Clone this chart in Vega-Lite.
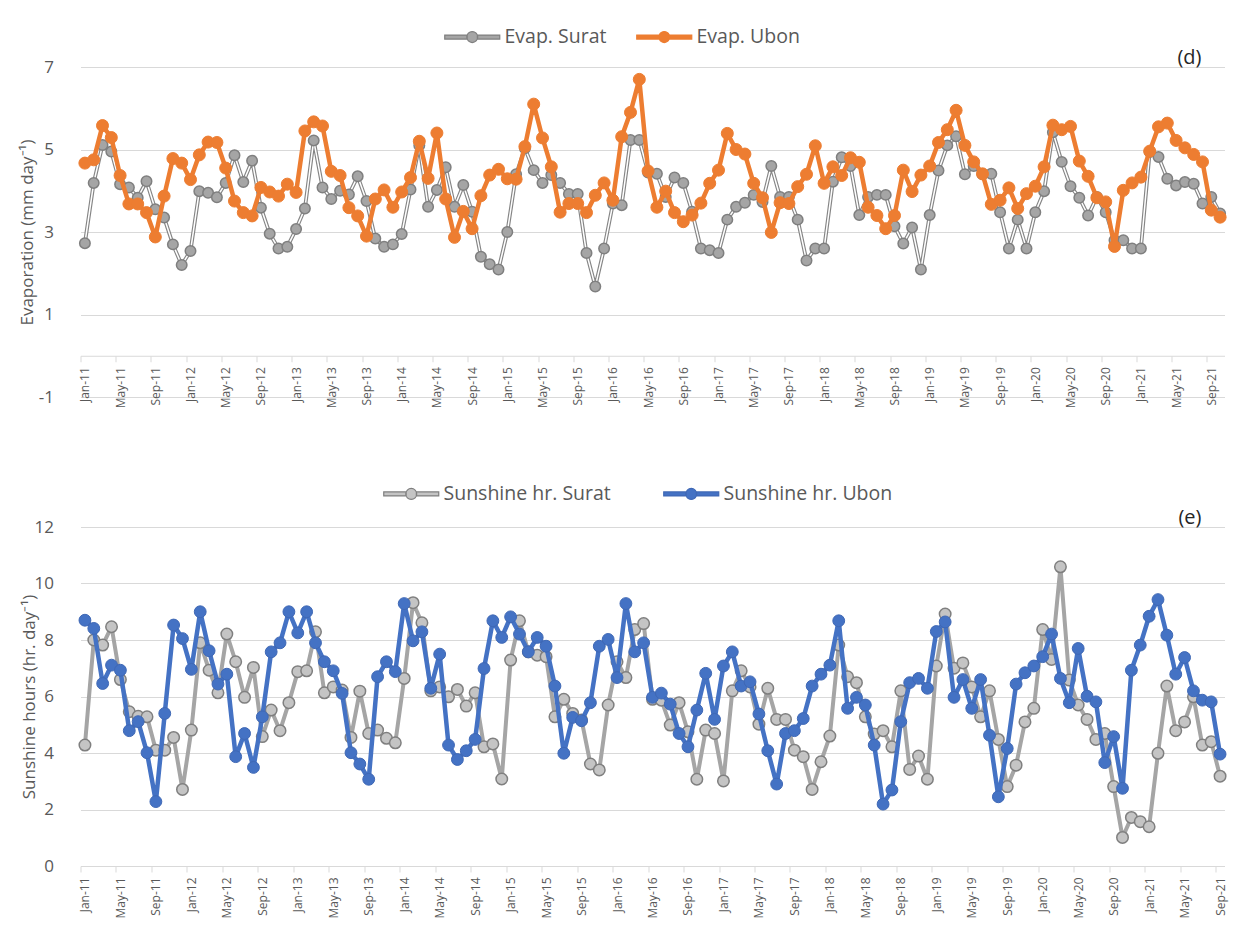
{
  "$schema": "https://vega.github.io/schema/vega-lite/v6.json",
  "autosize": {"type": "pad"},
  "padding": {"left": 18.5, "top": 27, "right": 10, "bottom": 5},
  "bounds": "flush",
  "spacing": 130,
  "background": "white",
  "config": {
    "view": {"stroke": null},
    "font": "Open Sans",
    "axis": {"labelFont": "Open Sans", "titleFont": "Open Sans"},
    "legend": {"labelFont": "Open Sans", "labelLimit": 400},
    "title": {"font": "Open Sans"}
  },
  "datasets": {
    "evap": [
      {"i":0,"s":"Evap. Surat","v":2.73},{"i":1,"s":"Evap. Surat","v":4.19},{"i":2,"s":"Evap. Surat","v":5.11},{"i":3,"s":"Evap. Surat","v":4.95},{"i":4,"s":"Evap. Surat","v":4.16},{"i":5,"s":"Evap. Surat","v":4.08},{"i":6,"s":"Evap. Surat","v":3.83},{"i":7,"s":"Evap. Surat","v":4.23},{"i":8,"s":"Evap. Surat","v":3.55},{"i":9,"s":"Evap. Surat","v":3.35},
      {"i":10,"s":"Evap. Surat","v":2.7},{"i":11,"s":"Evap. Surat","v":2.2},{"i":12,"s":"Evap. Surat","v":2.54},{"i":13,"s":"Evap. Surat","v":3.99},{"i":14,"s":"Evap. Surat","v":3.95},{"i":15,"s":"Evap. Surat","v":3.84},{"i":16,"s":"Evap. Surat","v":4.19},{"i":17,"s":"Evap. Surat","v":4.86},{"i":18,"s":"Evap. Surat","v":4.21},{"i":19,"s":"Evap. Surat","v":4.73},
      {"i":20,"s":"Evap. Surat","v":3.59},{"i":21,"s":"Evap. Surat","v":2.96},{"i":22,"s":"Evap. Surat","v":2.6},{"i":23,"s":"Evap. Surat","v":2.64},{"i":24,"s":"Evap. Surat","v":3.07},{"i":25,"s":"Evap. Surat","v":3.57},{"i":26,"s":"Evap. Surat","v":5.22},{"i":27,"s":"Evap. Surat","v":4.08},{"i":28,"s":"Evap. Surat","v":3.8},{"i":29,"s":"Evap. Surat","v":4.0},
      {"i":30,"s":"Evap. Surat","v":3.91},{"i":31,"s":"Evap. Surat","v":4.35},{"i":32,"s":"Evap. Surat","v":3.75},{"i":33,"s":"Evap. Surat","v":2.84},{"i":34,"s":"Evap. Surat","v":2.64},{"i":35,"s":"Evap. Surat","v":2.7},{"i":36,"s":"Evap. Surat","v":2.95},{"i":37,"s":"Evap. Surat","v":4.03},{"i":38,"s":"Evap. Surat","v":5.1},{"i":39,"s":"Evap. Surat","v":3.61},
      {"i":40,"s":"Evap. Surat","v":4.02},{"i":41,"s":"Evap. Surat","v":4.57},{"i":42,"s":"Evap. Surat","v":3.61},{"i":43,"s":"Evap. Surat","v":4.14},{"i":44,"s":"Evap. Surat","v":3.49},{"i":45,"s":"Evap. Surat","v":2.4},{"i":46,"s":"Evap. Surat","v":2.22},{"i":47,"s":"Evap. Surat","v":2.09},{"i":48,"s":"Evap. Surat","v":3.0},{"i":49,"s":"Evap. Surat","v":4.4},
      {"i":50,"s":"Evap. Surat","v":5.03},{"i":51,"s":"Evap. Surat","v":4.5},{"i":52,"s":"Evap. Surat","v":4.19},{"i":53,"s":"Evap. Surat","v":4.38},{"i":54,"s":"Evap. Surat","v":4.19},{"i":55,"s":"Evap. Surat","v":3.92},{"i":56,"s":"Evap. Surat","v":3.92},{"i":57,"s":"Evap. Surat","v":2.49},{"i":58,"s":"Evap. Surat","v":1.68},{"i":59,"s":"Evap. Surat","v":2.6},
      {"i":60,"s":"Evap. Surat","v":3.69},{"i":61,"s":"Evap. Surat","v":3.65},{"i":62,"s":"Evap. Surat","v":5.23},{"i":63,"s":"Evap. Surat","v":5.23},{"i":64,"s":"Evap. Surat","v":4.44},{"i":65,"s":"Evap. Surat","v":4.41},{"i":66,"s":"Evap. Surat","v":3.85},{"i":67,"s":"Evap. Surat","v":4.32},{"i":68,"s":"Evap. Surat","v":4.19},{"i":69,"s":"Evap. Surat","v":3.49},
      {"i":70,"s":"Evap. Surat","v":2.6},{"i":71,"s":"Evap. Surat","v":2.56},{"i":72,"s":"Evap. Surat","v":2.49},{"i":73,"s":"Evap. Surat","v":3.3},{"i":74,"s":"Evap. Surat","v":3.61},{"i":75,"s":"Evap. Surat","v":3.71},{"i":76,"s":"Evap. Surat","v":3.9},{"i":77,"s":"Evap. Surat","v":3.73},{"i":78,"s":"Evap. Surat","v":4.6},{"i":79,"s":"Evap. Surat","v":3.85},
      {"i":80,"s":"Evap. Surat","v":3.85},{"i":81,"s":"Evap. Surat","v":3.3},{"i":82,"s":"Evap. Surat","v":2.31},{"i":83,"s":"Evap. Surat","v":2.6},{"i":84,"s":"Evap. Surat","v":2.6},{"i":85,"s":"Evap. Surat","v":4.22},{"i":86,"s":"Evap. Surat","v":4.81},{"i":87,"s":"Evap. Surat","v":4.6},{"i":88,"s":"Evap. Surat","v":3.41},{"i":89,"s":"Evap. Surat","v":3.85},
      {"i":90,"s":"Evap. Surat","v":3.9},{"i":91,"s":"Evap. Surat","v":3.9},{"i":92,"s":"Evap. Surat","v":3.14},{"i":93,"s":"Evap. Surat","v":2.72},{"i":94,"s":"Evap. Surat","v":3.11},{"i":95,"s":"Evap. Surat","v":2.09},{"i":96,"s":"Evap. Surat","v":3.41},{"i":97,"s":"Evap. Surat","v":4.49},{"i":98,"s":"Evap. Surat","v":5.1},{"i":99,"s":"Evap. Surat","v":5.32},
      {"i":100,"s":"Evap. Surat","v":4.4},{"i":101,"s":"Evap. Surat","v":4.6},{"i":102,"s":"Evap. Surat","v":4.4},{"i":103,"s":"Evap. Surat","v":4.41},{"i":104,"s":"Evap. Surat","v":3.48},{"i":105,"s":"Evap. Surat","v":2.6},{"i":106,"s":"Evap. Surat","v":3.3},{"i":107,"s":"Evap. Surat","v":2.6},{"i":108,"s":"Evap. Surat","v":3.48},{"i":109,"s":"Evap. Surat","v":3.99},
      {"i":110,"s":"Evap. Surat","v":5.42},{"i":111,"s":"Evap. Surat","v":4.7},{"i":112,"s":"Evap. Surat","v":4.11},{"i":113,"s":"Evap. Surat","v":3.83},{"i":114,"s":"Evap. Surat","v":3.4},{"i":115,"s":"Evap. Surat","v":3.85},{"i":116,"s":"Evap. Surat","v":3.48},{"i":117,"s":"Evap. Surat","v":2.8},{"i":118,"s":"Evap. Surat","v":2.8},{"i":119,"s":"Evap. Surat","v":2.6},
      {"i":120,"s":"Evap. Surat","v":2.6},{"i":121,"s":"Evap. Surat","v":4.94},{"i":122,"s":"Evap. Surat","v":4.82},{"i":123,"s":"Evap. Surat","v":4.29},{"i":124,"s":"Evap. Surat","v":4.13},{"i":125,"s":"Evap. Surat","v":4.21},{"i":126,"s":"Evap. Surat","v":4.17},{"i":127,"s":"Evap. Surat","v":3.69},{"i":128,"s":"Evap. Surat","v":3.85},{"i":129,"s":"Evap. Surat","v":3.45},
      {"i":0,"s":"Evap. Ubon","v":4.67},{"i":1,"s":"Evap. Ubon","v":4.75},{"i":2,"s":"Evap. Ubon","v":5.58},{"i":3,"s":"Evap. Ubon","v":5.29},{"i":4,"s":"Evap. Ubon","v":4.37},{"i":5,"s":"Evap. Ubon","v":3.68},{"i":6,"s":"Evap. Ubon","v":3.68},{"i":7,"s":"Evap. Ubon","v":3.47},{"i":8,"s":"Evap. Ubon","v":2.88},{"i":9,"s":"Evap. Ubon","v":3.87},
      {"i":10,"s":"Evap. Ubon","v":4.78},{"i":11,"s":"Evap. Ubon","v":4.67},{"i":12,"s":"Evap. Ubon","v":4.27},{"i":13,"s":"Evap. Ubon","v":4.87},{"i":14,"s":"Evap. Ubon","v":5.18},{"i":15,"s":"Evap. Ubon","v":5.17},{"i":16,"s":"Evap. Ubon","v":4.55},{"i":17,"s":"Evap. Ubon","v":3.75},{"i":18,"s":"Evap. Ubon","v":3.47},{"i":19,"s":"Evap. Ubon","v":3.39},
      {"i":20,"s":"Evap. Ubon","v":4.08},{"i":21,"s":"Evap. Ubon","v":3.97},{"i":22,"s":"Evap. Ubon","v":3.87},{"i":23,"s":"Evap. Ubon","v":4.16},{"i":24,"s":"Evap. Ubon","v":3.96},{"i":25,"s":"Evap. Ubon","v":5.45},{"i":26,"s":"Evap. Ubon","v":5.67},{"i":27,"s":"Evap. Ubon","v":5.57},{"i":28,"s":"Evap. Ubon","v":4.47},{"i":29,"s":"Evap. Ubon","v":4.37},
      {"i":30,"s":"Evap. Ubon","v":3.59},{"i":31,"s":"Evap. Ubon","v":3.39},{"i":32,"s":"Evap. Ubon","v":2.9},{"i":33,"s":"Evap. Ubon","v":3.8},{"i":34,"s":"Evap. Ubon","v":4.02},{"i":35,"s":"Evap. Ubon","v":3.6},{"i":36,"s":"Evap. Ubon","v":3.97},{"i":37,"s":"Evap. Ubon","v":4.32},{"i":38,"s":"Evap. Ubon","v":5.2},{"i":39,"s":"Evap. Ubon","v":4.3},
      {"i":40,"s":"Evap. Ubon","v":5.4},{"i":41,"s":"Evap. Ubon","v":3.8},{"i":42,"s":"Evap. Ubon","v":2.87},{"i":43,"s":"Evap. Ubon","v":3.5},{"i":44,"s":"Evap. Ubon","v":3.08},{"i":45,"s":"Evap. Ubon","v":3.88},{"i":46,"s":"Evap. Ubon","v":4.38},{"i":47,"s":"Evap. Ubon","v":4.52},{"i":48,"s":"Evap. Ubon","v":4.29},{"i":49,"s":"Evap. Ubon","v":4.28},
      {"i":50,"s":"Evap. Ubon","v":5.07},{"i":51,"s":"Evap. Ubon","v":6.1},{"i":52,"s":"Evap. Ubon","v":5.28},{"i":53,"s":"Evap. Ubon","v":4.58},{"i":54,"s":"Evap. Ubon","v":3.48},{"i":55,"s":"Evap. Ubon","v":3.69},{"i":56,"s":"Evap. Ubon","v":3.69},{"i":57,"s":"Evap. Ubon","v":3.47},{"i":58,"s":"Evap. Ubon","v":3.89},{"i":59,"s":"Evap. Ubon","v":4.19},
      {"i":60,"s":"Evap. Ubon","v":3.77},{"i":61,"s":"Evap. Ubon","v":5.31},{"i":62,"s":"Evap. Ubon","v":5.9},{"i":63,"s":"Evap. Ubon","v":6.7},{"i":64,"s":"Evap. Ubon","v":4.48},{"i":65,"s":"Evap. Ubon","v":3.6},{"i":66,"s":"Evap. Ubon","v":3.99},{"i":67,"s":"Evap. Ubon","v":3.47},{"i":68,"s":"Evap. Ubon","v":3.25},{"i":69,"s":"Evap. Ubon","v":3.41},
      {"i":70,"s":"Evap. Ubon","v":3.7},{"i":71,"s":"Evap. Ubon","v":4.18},{"i":72,"s":"Evap. Ubon","v":4.5},{"i":73,"s":"Evap. Ubon","v":5.39},{"i":74,"s":"Evap. Ubon","v":5.0},{"i":75,"s":"Evap. Ubon","v":4.89},{"i":76,"s":"Evap. Ubon","v":4.18},{"i":77,"s":"Evap. Ubon","v":3.83},{"i":78,"s":"Evap. Ubon","v":2.99},{"i":79,"s":"Evap. Ubon","v":3.71},
      {"i":80,"s":"Evap. Ubon","v":3.69},{"i":81,"s":"Evap. Ubon","v":4.1},{"i":82,"s":"Evap. Ubon","v":4.4},{"i":83,"s":"Evap. Ubon","v":5.09},{"i":84,"s":"Evap. Ubon","v":4.18},{"i":85,"s":"Evap. Ubon","v":4.58},{"i":86,"s":"Evap. Ubon","v":4.37},{"i":87,"s":"Evap. Ubon","v":4.8},{"i":88,"s":"Evap. Ubon","v":4.69},{"i":89,"s":"Evap. Ubon","v":3.6},
      {"i":90,"s":"Evap. Ubon","v":3.4},{"i":91,"s":"Evap. Ubon","v":3.08},{"i":92,"s":"Evap. Ubon","v":3.4},{"i":93,"s":"Evap. Ubon","v":4.5},{"i":94,"s":"Evap. Ubon","v":3.98},{"i":95,"s":"Evap. Ubon","v":4.38},{"i":96,"s":"Evap. Ubon","v":4.6},{"i":97,"s":"Evap. Ubon","v":5.17},{"i":98,"s":"Evap. Ubon","v":5.48},{"i":99,"s":"Evap. Ubon","v":5.95},
      {"i":100,"s":"Evap. Ubon","v":5.1},{"i":101,"s":"Evap. Ubon","v":4.7},{"i":102,"s":"Evap. Ubon","v":4.41},{"i":103,"s":"Evap. Ubon","v":3.67},{"i":104,"s":"Evap. Ubon","v":3.77},{"i":105,"s":"Evap. Ubon","v":4.07},{"i":106,"s":"Evap. Ubon","v":3.57},{"i":107,"s":"Evap. Ubon","v":3.93},{"i":108,"s":"Evap. Ubon","v":4.11},{"i":109,"s":"Evap. Ubon","v":4.58},
      {"i":110,"s":"Evap. Ubon","v":5.59},{"i":111,"s":"Evap. Ubon","v":5.48},{"i":112,"s":"Evap. Ubon","v":5.56},{"i":113,"s":"Evap. Ubon","v":4.72},{"i":114,"s":"Evap. Ubon","v":4.35},{"i":115,"s":"Evap. Ubon","v":3.83},{"i":116,"s":"Evap. Ubon","v":3.73},{"i":117,"s":"Evap. Ubon","v":2.65},{"i":118,"s":"Evap. Ubon","v":4.01},{"i":119,"s":"Evap. Ubon","v":4.19},
      {"i":120,"s":"Evap. Ubon","v":4.33},{"i":121,"s":"Evap. Ubon","v":4.96},{"i":122,"s":"Evap. Ubon","v":5.55},{"i":123,"s":"Evap. Ubon","v":5.64},{"i":124,"s":"Evap. Ubon","v":5.22},{"i":125,"s":"Evap. Ubon","v":5.04},{"i":126,"s":"Evap. Ubon","v":4.88},{"i":127,"s":"Evap. Ubon","v":4.7},{"i":128,"s":"Evap. Ubon","v":3.53},{"i":129,"s":"Evap. Ubon","v":3.36}
    ],
    "sun": [
      {"i":0,"s":"Sunshine hr. Surat","v":4.28},{"i":1,"s":"Sunshine hr. Surat","v":8.0},{"i":2,"s":"Sunshine hr. Surat","v":7.82},{"i":3,"s":"Sunshine hr. Surat","v":8.47},{"i":4,"s":"Sunshine hr. Surat","v":6.6},{"i":5,"s":"Sunshine hr. Surat","v":5.46},{"i":6,"s":"Sunshine hr. Surat","v":5.3},{"i":7,"s":"Sunshine hr. Surat","v":5.28},{"i":8,"s":"Sunshine hr. Surat","v":4.1},{"i":9,"s":"Sunshine hr. Surat","v":4.1},
      {"i":10,"s":"Sunshine hr. Surat","v":4.55},{"i":11,"s":"Sunshine hr. Surat","v":2.71},{"i":12,"s":"Sunshine hr. Surat","v":4.81},{"i":13,"s":"Sunshine hr. Surat","v":7.9},{"i":14,"s":"Sunshine hr. Surat","v":6.93},{"i":15,"s":"Sunshine hr. Surat","v":6.13},{"i":16,"s":"Sunshine hr. Surat","v":8.21},{"i":17,"s":"Sunshine hr. Surat","v":7.23},{"i":18,"s":"Sunshine hr. Surat","v":5.97},{"i":19,"s":"Sunshine hr. Surat","v":7.03},
      {"i":20,"s":"Sunshine hr. Surat","v":4.58},{"i":21,"s":"Sunshine hr. Surat","v":5.52},{"i":22,"s":"Sunshine hr. Surat","v":4.79},{"i":23,"s":"Sunshine hr. Surat","v":5.78},{"i":24,"s":"Sunshine hr. Surat","v":6.88},{"i":25,"s":"Sunshine hr. Surat","v":6.91},{"i":26,"s":"Sunshine hr. Surat","v":8.29},{"i":27,"s":"Sunshine hr. Surat","v":6.13},{"i":28,"s":"Sunshine hr. Surat","v":6.34},{"i":29,"s":"Sunshine hr. Surat","v":6.23},
      {"i":30,"s":"Sunshine hr. Surat","v":4.55},{"i":31,"s":"Sunshine hr. Surat","v":6.19},{"i":32,"s":"Sunshine hr. Surat","v":4.69},{"i":33,"s":"Sunshine hr. Surat","v":4.81},{"i":34,"s":"Sunshine hr. Surat","v":4.52},{"i":35,"s":"Sunshine hr. Surat","v":4.36},{"i":36,"s":"Sunshine hr. Surat","v":6.64},{"i":37,"s":"Sunshine hr. Surat","v":9.32},{"i":38,"s":"Sunshine hr. Surat","v":8.61},{"i":39,"s":"Sunshine hr. Surat","v":6.2},
      {"i":40,"s":"Sunshine hr. Surat","v":6.34},{"i":41,"s":"Sunshine hr. Surat","v":5.99},{"i":42,"s":"Sunshine hr. Surat","v":6.25},{"i":43,"s":"Sunshine hr. Surat","v":5.66},{"i":44,"s":"Sunshine hr. Surat","v":6.13},{"i":45,"s":"Sunshine hr. Surat","v":4.22},{"i":46,"s":"Sunshine hr. Surat","v":4.32},{"i":47,"s":"Sunshine hr. Surat","v":3.08},{"i":48,"s":"Sunshine hr. Surat","v":7.29},{"i":49,"s":"Sunshine hr. Surat","v":8.68},
      {"i":50,"s":"Sunshine hr. Surat","v":7.58},{"i":51,"s":"Sunshine hr. Surat","v":7.46},{"i":52,"s":"Sunshine hr. Surat","v":7.41},{"i":53,"s":"Sunshine hr. Surat","v":5.28},{"i":54,"s":"Sunshine hr. Surat","v":5.9},{"i":55,"s":"Sunshine hr. Surat","v":5.4},{"i":56,"s":"Sunshine hr. Surat","v":5.17},{"i":57,"s":"Sunshine hr. Surat","v":3.61},{"i":58,"s":"Sunshine hr. Surat","v":3.4},{"i":59,"s":"Sunshine hr. Surat","v":5.7},
      {"i":60,"s":"Sunshine hr. Surat","v":7.23},{"i":61,"s":"Sunshine hr. Surat","v":6.67},{"i":62,"s":"Sunshine hr. Surat","v":8.37},{"i":63,"s":"Sunshine hr. Surat","v":8.58},{"i":64,"s":"Sunshine hr. Surat","v":5.9},{"i":65,"s":"Sunshine hr. Surat","v":5.87},{"i":66,"s":"Sunshine hr. Surat","v":4.99},{"i":67,"s":"Sunshine hr. Surat","v":5.78},{"i":68,"s":"Sunshine hr. Surat","v":4.75},{"i":69,"s":"Sunshine hr. Surat","v":3.07},
      {"i":70,"s":"Sunshine hr. Surat","v":4.81},{"i":71,"s":"Sunshine hr. Surat","v":4.69},{"i":72,"s":"Sunshine hr. Surat","v":3.01},{"i":73,"s":"Sunshine hr. Surat","v":6.2},{"i":74,"s":"Sunshine hr. Surat","v":6.91},{"i":75,"s":"Sunshine hr. Surat","v":6.34},{"i":76,"s":"Sunshine hr. Surat","v":5.02},{"i":77,"s":"Sunshine hr. Surat","v":6.29},{"i":78,"s":"Sunshine hr. Surat","v":5.19},{"i":79,"s":"Sunshine hr. Surat","v":5.19},
      {"i":80,"s":"Sunshine hr. Surat","v":4.1},{"i":81,"s":"Sunshine hr. Surat","v":3.87},{"i":82,"s":"Sunshine hr. Surat","v":2.71},{"i":83,"s":"Sunshine hr. Surat","v":3.69},{"i":84,"s":"Sunshine hr. Surat","v":4.6},{"i":85,"s":"Sunshine hr. Surat","v":7.82},{"i":86,"s":"Sunshine hr. Surat","v":6.7},{"i":87,"s":"Sunshine hr. Surat","v":6.49},{"i":88,"s":"Sunshine hr. Surat","v":5.28},{"i":89,"s":"Sunshine hr. Surat","v":4.67},
      {"i":90,"s":"Sunshine hr. Surat","v":4.79},{"i":91,"s":"Sunshine hr. Surat","v":4.22},{"i":92,"s":"Sunshine hr. Surat","v":6.2},{"i":93,"s":"Sunshine hr. Surat","v":3.42},{"i":94,"s":"Sunshine hr. Surat","v":3.89},{"i":95,"s":"Sunshine hr. Surat","v":3.07},{"i":96,"s":"Sunshine hr. Surat","v":7.08},{"i":97,"s":"Sunshine hr. Surat","v":8.92},{"i":98,"s":"Sunshine hr. Surat","v":7.0},{"i":99,"s":"Sunshine hr. Surat","v":7.19},
      {"i":100,"s":"Sunshine hr. Surat","v":6.34},{"i":101,"s":"Sunshine hr. Surat","v":5.28},{"i":102,"s":"Sunshine hr. Surat","v":6.2},{"i":103,"s":"Sunshine hr. Surat","v":4.48},{"i":104,"s":"Sunshine hr. Surat","v":2.81},{"i":105,"s":"Sunshine hr. Surat","v":3.57},{"i":106,"s":"Sunshine hr. Surat","v":5.1},{"i":107,"s":"Sunshine hr. Surat","v":5.58},{"i":108,"s":"Sunshine hr. Surat","v":8.37},{"i":109,"s":"Sunshine hr. Surat","v":7.31},
      {"i":110,"s":"Sunshine hr. Surat","v":10.59},{"i":111,"s":"Sunshine hr. Surat","v":6.58},{"i":112,"s":"Sunshine hr. Surat","v":5.7},{"i":113,"s":"Sunshine hr. Surat","v":5.19},{"i":114,"s":"Sunshine hr. Surat","v":4.48},{"i":115,"s":"Sunshine hr. Surat","v":4.69},{"i":116,"s":"Sunshine hr. Surat","v":2.81},{"i":117,"s":"Sunshine hr. Surat","v":1.01},{"i":118,"s":"Sunshine hr. Surat","v":1.72},{"i":119,"s":"Sunshine hr. Surat","v":1.57},
      {"i":120,"s":"Sunshine hr. Surat","v":1.39},{"i":121,"s":"Sunshine hr. Surat","v":3.99},{"i":122,"s":"Sunshine hr. Surat","v":6.37},{"i":123,"s":"Sunshine hr. Surat","v":4.79},{"i":124,"s":"Sunshine hr. Surat","v":5.1},{"i":125,"s":"Sunshine hr. Surat","v":5.99},{"i":126,"s":"Sunshine hr. Surat","v":4.28},{"i":127,"s":"Sunshine hr. Surat","v":4.4},{"i":128,"s":"Sunshine hr. Surat","v":3.18},
      {"i":0,"s":"Sunshine hr. Ubon","v":8.7},{"i":1,"s":"Sunshine hr. Ubon","v":8.41},{"i":2,"s":"Sunshine hr. Ubon","v":6.46},{"i":3,"s":"Sunshine hr. Ubon","v":7.11},{"i":4,"s":"Sunshine hr. Ubon","v":6.93},{"i":5,"s":"Sunshine hr. Ubon","v":4.79},{"i":6,"s":"Sunshine hr. Ubon","v":5.11},{"i":7,"s":"Sunshine hr. Ubon","v":4.01},{"i":8,"s":"Sunshine hr. Ubon","v":2.28},{"i":9,"s":"Sunshine hr. Ubon","v":5.4},
      {"i":10,"s":"Sunshine hr. Ubon","v":8.53},{"i":11,"s":"Sunshine hr. Ubon","v":8.05},{"i":12,"s":"Sunshine hr. Ubon","v":6.96},{"i":13,"s":"Sunshine hr. Ubon","v":9.0},{"i":14,"s":"Sunshine hr. Ubon","v":7.62},{"i":15,"s":"Sunshine hr. Ubon","v":6.44},{"i":16,"s":"Sunshine hr. Ubon","v":6.79},{"i":17,"s":"Sunshine hr. Ubon","v":3.87},{"i":18,"s":"Sunshine hr. Ubon","v":4.69},{"i":19,"s":"Sunshine hr. Ubon","v":3.49},
      {"i":20,"s":"Sunshine hr. Ubon","v":5.28},{"i":21,"s":"Sunshine hr. Ubon","v":7.58},{"i":22,"s":"Sunshine hr. Ubon","v":7.9},{"i":23,"s":"Sunshine hr. Ubon","v":9.0},{"i":24,"s":"Sunshine hr. Ubon","v":8.25},{"i":25,"s":"Sunshine hr. Ubon","v":9.0},{"i":26,"s":"Sunshine hr. Ubon","v":7.9},{"i":27,"s":"Sunshine hr. Ubon","v":7.23},{"i":28,"s":"Sunshine hr. Ubon","v":6.91},{"i":29,"s":"Sunshine hr. Ubon","v":6.11},
      {"i":30,"s":"Sunshine hr. Ubon","v":4.01},{"i":31,"s":"Sunshine hr. Ubon","v":3.61},{"i":32,"s":"Sunshine hr. Ubon","v":3.07},{"i":33,"s":"Sunshine hr. Ubon","v":6.7},{"i":34,"s":"Sunshine hr. Ubon","v":7.23},{"i":35,"s":"Sunshine hr. Ubon","v":6.88},{"i":36,"s":"Sunshine hr. Ubon","v":9.29},{"i":37,"s":"Sunshine hr. Ubon","v":7.97},{"i":38,"s":"Sunshine hr. Ubon","v":8.29},{"i":39,"s":"Sunshine hr. Ubon","v":6.29},
      {"i":40,"s":"Sunshine hr. Ubon","v":7.5},{"i":41,"s":"Sunshine hr. Ubon","v":4.28},{"i":42,"s":"Sunshine hr. Ubon","v":3.77},{"i":43,"s":"Sunshine hr. Ubon","v":4.08},{"i":44,"s":"Sunshine hr. Ubon","v":4.48},{"i":45,"s":"Sunshine hr. Ubon","v":6.99},{"i":46,"s":"Sunshine hr. Ubon","v":8.68},{"i":47,"s":"Sunshine hr. Ubon","v":8.09},{"i":48,"s":"Sunshine hr. Ubon","v":8.82},{"i":49,"s":"Sunshine hr. Ubon","v":8.21},
      {"i":50,"s":"Sunshine hr. Ubon","v":7.58},{"i":51,"s":"Sunshine hr. Ubon","v":8.09},{"i":52,"s":"Sunshine hr. Ubon","v":7.78},{"i":53,"s":"Sunshine hr. Ubon","v":6.37},{"i":54,"s":"Sunshine hr. Ubon","v":3.99},{"i":55,"s":"Sunshine hr. Ubon","v":5.26},{"i":56,"s":"Sunshine hr. Ubon","v":5.14},{"i":57,"s":"Sunshine hr. Ubon","v":5.78},{"i":58,"s":"Sunshine hr. Ubon","v":7.78},{"i":59,"s":"Sunshine hr. Ubon","v":8.02},
      {"i":60,"s":"Sunshine hr. Ubon","v":6.67},{"i":61,"s":"Sunshine hr. Ubon","v":9.29},{"i":62,"s":"Sunshine hr. Ubon","v":7.58},{"i":63,"s":"Sunshine hr. Ubon","v":7.9},{"i":64,"s":"Sunshine hr. Ubon","v":5.97},{"i":65,"s":"Sunshine hr. Ubon","v":6.12},{"i":66,"s":"Sunshine hr. Ubon","v":5.73},{"i":67,"s":"Sunshine hr. Ubon","v":4.69},{"i":68,"s":"Sunshine hr. Ubon","v":4.22},{"i":69,"s":"Sunshine hr. Ubon","v":5.52},
      {"i":70,"s":"Sunshine hr. Ubon","v":6.82},{"i":71,"s":"Sunshine hr. Ubon","v":5.19},{"i":72,"s":"Sunshine hr. Ubon","v":7.08},{"i":73,"s":"Sunshine hr. Ubon","v":7.58},{"i":74,"s":"Sunshine hr. Ubon","v":6.37},{"i":75,"s":"Sunshine hr. Ubon","v":6.52},{"i":76,"s":"Sunshine hr. Ubon","v":5.38},{"i":77,"s":"Sunshine hr. Ubon","v":4.08},{"i":78,"s":"Sunshine hr. Ubon","v":2.9},{"i":79,"s":"Sunshine hr. Ubon","v":4.69},
      {"i":80,"s":"Sunshine hr. Ubon","v":4.79},{"i":81,"s":"Sunshine hr. Ubon","v":5.22},{"i":82,"s":"Sunshine hr. Ubon","v":6.37},{"i":83,"s":"Sunshine hr. Ubon","v":6.79},{"i":84,"s":"Sunshine hr. Ubon","v":7.11},{"i":85,"s":"Sunshine hr. Ubon","v":8.68},{"i":86,"s":"Sunshine hr. Ubon","v":5.58},{"i":87,"s":"Sunshine hr. Ubon","v":5.97},{"i":88,"s":"Sunshine hr. Ubon","v":5.7},{"i":89,"s":"Sunshine hr. Ubon","v":4.28},
      {"i":90,"s":"Sunshine hr. Ubon","v":2.19},{"i":91,"s":"Sunshine hr. Ubon","v":2.69},{"i":92,"s":"Sunshine hr. Ubon","v":5.11},{"i":93,"s":"Sunshine hr. Ubon","v":6.49},{"i":94,"s":"Sunshine hr. Ubon","v":6.64},{"i":95,"s":"Sunshine hr. Ubon","v":6.29},{"i":96,"s":"Sunshine hr. Ubon","v":8.3},{"i":97,"s":"Sunshine hr. Ubon","v":8.64},{"i":98,"s":"Sunshine hr. Ubon","v":5.97},{"i":99,"s":"Sunshine hr. Ubon","v":6.6},
      {"i":100,"s":"Sunshine hr. Ubon","v":5.58},{"i":101,"s":"Sunshine hr. Ubon","v":6.6},{"i":102,"s":"Sunshine hr. Ubon","v":4.63},{"i":103,"s":"Sunshine hr. Ubon","v":2.45},{"i":104,"s":"Sunshine hr. Ubon","v":4.16},{"i":105,"s":"Sunshine hr. Ubon","v":6.44},{"i":106,"s":"Sunshine hr. Ubon","v":6.84},{"i":107,"s":"Sunshine hr. Ubon","v":7.08},{"i":108,"s":"Sunshine hr. Ubon","v":7.41},{"i":109,"s":"Sunshine hr. Ubon","v":8.21},
      {"i":110,"s":"Sunshine hr. Ubon","v":6.64},{"i":111,"s":"Sunshine hr. Ubon","v":5.78},{"i":112,"s":"Sunshine hr. Ubon","v":7.7},{"i":113,"s":"Sunshine hr. Ubon","v":6.01},{"i":114,"s":"Sunshine hr. Ubon","v":5.81},{"i":115,"s":"Sunshine hr. Ubon","v":3.66},{"i":116,"s":"Sunshine hr. Ubon","v":4.58},{"i":117,"s":"Sunshine hr. Ubon","v":2.75},{"i":118,"s":"Sunshine hr. Ubon","v":6.93},{"i":119,"s":"Sunshine hr. Ubon","v":7.82},
      {"i":120,"s":"Sunshine hr. Ubon","v":8.84},{"i":121,"s":"Sunshine hr. Ubon","v":9.43},{"i":122,"s":"Sunshine hr. Ubon","v":8.17},{"i":123,"s":"Sunshine hr. Ubon","v":6.79},{"i":124,"s":"Sunshine hr. Ubon","v":7.38},{"i":125,"s":"Sunshine hr. Ubon","v":6.2},{"i":126,"s":"Sunshine hr. Ubon","v":5.87},{"i":127,"s":"Sunshine hr. Ubon","v":5.81},{"i":128,"s":"Sunshine hr. Ubon","v":3.96}
    ]
  },
  "vconcat": [
    {
      "width": 1144,
      "height": 330,
      "data": {"name": "evap"},
      "title": {"text": "(d)", "orient": "top", "anchor": "end", "frame": "group", "offset": -41, "dx": -23, "fontSize": 20, "fontWeight": "normal", "color": "#262626"},
      "encoding": {
        "x": {"field": "i", "type": "quantitative",
          "scale": {"domain": [-0.5, 129.5], "nice": false, "zero": false},
          "axis": {"values": [0,4,8,12,16,20,24,28,32,36,40,44,48,52,56,60,64,68,72,76,80,84,88,92,96,100,104,108,112,116,120,124,128],
            "labelExpr": "['Jan','May','Sep'][(datum.value/4)%3] + '-' + (11 + floor(datum.value/12))",
            "labelAngle": 270, "labelFontSize": 12, "labelColor": "#595959", "labelPadding": 5,
            "tickSize": 6, "tickColor": "#d9d9d9", "domainColor": "#d9d9d9", "grid": false,
            "offset": -41.25, "tickOffset": -4.4, "labelOffset": 4.4, "title": null,
            "labelFlush": false, "labelOverlap": false, "labelBound": false}},
        "y": {"field": "v", "type": "quantitative",
          "scale": {"domain": [-1, 7], "nice": false, "zero": false},
          "axis": {"values": [-1, 1, 3, 5, 7], "grid": true, "gridColor": "#d9d9d9", "domain": false, "ticks": false, "tickSize": 0,
            "labelExpr": "datum.value < 0 ? '-' + abs(datum.value) : '' + datum.value",
            "labelFontSize": 17, "labelColor": "#595959", "labelPadding": 27,
            "title": "Evaporation (mm day⁻¹)", "titleFontSize": 17, "titleColor": "#595959", "titleFontWeight": "normal", "titlePadding": 1.7}}
      },
      "layer": [
        {"transform": [{"filter": "datum.s == 'Evap. Surat'"}], "mark": {"type": "line", "stroke": "#858585", "strokeWidth": 3.8, "strokeJoin": "round"}},
        {"transform": [{"filter": "datum.s == 'Evap. Surat'"}], "mark": {"type": "line", "stroke": "#ffffff", "strokeWidth": 1.5, "strokeJoin": "round"}},
        {"transform": [{"filter": "datum.s == 'Evap. Surat'"}], "mark": {"type": "point", "filled": true, "size": 110, "strokeWidth": 1.5, "opacity": 1},
          "encoding": {
            "fill": {"field": "s", "type": "nominal", "scale": {"domain": ["Evap. Surat", "Evap. Ubon"], "range": ["#a5a5a5", "#ED7D31"]},
              "legend": {"title": null, "orient": "none", "legendX": 382, "legendY": -39.7, "direction": "horizontal", "symbolType": "M-5,-0.36H-0.93V0.36H-5ZM0.93,-0.36H5V0.36H0.93ZM1,0A1,1,0,1,1,-1,0A1,1,0,1,1,1,0Z", "symbolSize": 121, "symbolStrokeWidth": 1.2, "labelFontSize": 19.5, "labelColor": "#595959", "labelOffset": 22.5, "columnPadding": 27, "padding": 0, "gridAlign": "none", "symbolOpacity": 1}},
            "stroke": {"field": "s", "type": "nominal", "scale": {"domain": ["Evap. Surat", "Evap. Ubon"], "range": ["#7f7f7f", "#ED7D31"]},
              "legend": {"title": null, "orient": "none", "legendX": 382, "legendY": -39.7, "direction": "horizontal", "symbolType": "M-5,-0.36H-0.93V0.36H-5ZM0.93,-0.36H5V0.36H0.93ZM1,0A1,1,0,1,1,-1,0A1,1,0,1,1,1,0Z", "symbolSize": 121, "symbolStrokeWidth": 1.2, "labelFontSize": 19.5, "labelColor": "#595959", "labelOffset": 22.5, "columnPadding": 27, "padding": 0, "gridAlign": "none", "symbolOpacity": 1}}
          }},
        {"transform": [{"filter": "datum.s == 'Evap. Ubon'"}], "mark": {"type": "line", "stroke": "#ED7D31", "strokeWidth": 4.5, "strokeJoin": "round"}},
        {"transform": [{"filter": "datum.s == 'Evap. Ubon'"}], "mark": {"type": "point", "filled": true, "size": 144, "strokeWidth": 1, "opacity": 1},
          "encoding": {
            "fill": {"field": "s", "type": "nominal"},
            "stroke": {"field": "s", "type": "nominal"}
          }}
      ]
    },
    {
      "width": 1144,
      "height": 339,
      "data": {"name": "sun"},
      "title": {"text": "(e)", "orient": "top", "anchor": "end", "frame": "group", "offset": -44, "dx": -23, "fontSize": 20, "fontWeight": "normal", "color": "#262626"},
      "encoding": {
        "x": {"field": "i", "type": "quantitative",
          "scale": {"domain": [-0.5, 128.5], "nice": false, "zero": false},
          "axis": {"values": [0,4,8,12,16,20,24,28,32,36,40,44,48,52,56,60,64,68,72,76,80,84,88,92,96,100,104,108,112,116,120,124,128],
            "labelExpr": "['Jan','May','Sep'][(datum.value/4)%3] + '-' + (11 + floor(datum.value/12))",
            "labelAngle": 270, "labelFontSize": 12, "labelColor": "#595959", "labelPadding": 5,
            "tickSize": 6, "tickColor": "#d9d9d9", "domainColor": "#d9d9d9", "grid": false,
            "tickOffset": -4.43, "labelOffset": 4.43, "title": null,
            "labelFlush": false, "labelOverlap": false, "labelBound": false}},
        "y": {"field": "v", "type": "quantitative",
          "scale": {"domain": [0, 12], "nice": false, "zero": false},
          "axis": {"values": [0, 2, 4, 6, 8, 10, 12], "grid": true, "gridColor": "#d9d9d9", "domain": false, "ticks": false, "tickSize": 0,
            "labelFontSize": 17, "labelColor": "#595959", "labelPadding": 27,
            "title": "Sunshine hours (hr. day⁻¹)", "titleFontSize": 17, "titleColor": "#595959", "titleFontWeight": "normal", "titlePadding": -4}}
      },
      "layer": [
        {"transform": [{"filter": "datum.s == 'Sunshine hr. Surat'"}], "mark": {"type": "line", "stroke": "#a5a5a5", "strokeWidth": 4, "strokeJoin": "round"}},
        {"transform": [{"filter": "datum.s == 'Sunshine hr. Surat'"}], "mark": {"type": "point", "filled": true, "size": 132, "strokeWidth": 1.5, "opacity": 1},
          "encoding": {
            "fill": {"field": "s", "type": "nominal", "scale": {"domain": ["Sunshine hr. Surat", "Sunshine hr. Ubon"], "range": ["#c4c4c4", "#4472C4"]},
              "legend": {"title": null, "orient": "none", "legendX": 321, "legendY": -42.8, "direction": "horizontal", "symbolType": "M-5,-0.36H-0.93V0.36H-5ZM0.93,-0.36H5V0.36H0.93ZM1,0A1,1,0,1,1,-1,0A1,1,0,1,1,1,0Z", "symbolSize": 121, "symbolStrokeWidth": 1.2, "labelFontSize": 19.5, "labelColor": "#595959", "labelOffset": 22.5, "columnPadding": 49, "padding": 0, "gridAlign": "none", "symbolOpacity": 1}},
            "stroke": {"field": "s", "type": "nominal", "scale": {"domain": ["Sunshine hr. Surat", "Sunshine hr. Ubon"], "range": ["#7f7f7f", "#3f68b5"]},
              "legend": {"title": null, "orient": "none", "legendX": 321, "legendY": -42.8, "direction": "horizontal", "symbolType": "M-5,-0.36H-0.93V0.36H-5ZM0.93,-0.36H5V0.36H0.93ZM1,0A1,1,0,1,1,-1,0A1,1,0,1,1,1,0Z", "symbolSize": 121, "symbolStrokeWidth": 1.2, "labelFontSize": 19.5, "labelColor": "#595959", "labelOffset": 22.5, "columnPadding": 49, "padding": 0, "gridAlign": "none", "symbolOpacity": 1}}
          }},
        {"transform": [{"filter": "datum.s == 'Sunshine hr. Ubon'"}], "mark": {"type": "line", "stroke": "#4472C4", "strokeWidth": 4.5, "strokeJoin": "round"}},
        {"transform": [{"filter": "datum.s == 'Sunshine hr. Ubon'"}], "mark": {"type": "point", "filled": true, "size": 140, "strokeWidth": 1, "opacity": 1},
          "encoding": {
            "fill": {"field": "s", "type": "nominal"},
            "stroke": {"field": "s", "type": "nominal"}
          }}
      ]
    }
  ],
  "resolve": {
    "scale": {"x": "independent", "y": "independent", "fill": "independent", "stroke": "independent"},
    "legend": {"fill": "independent", "stroke": "independent"}
  }
}
